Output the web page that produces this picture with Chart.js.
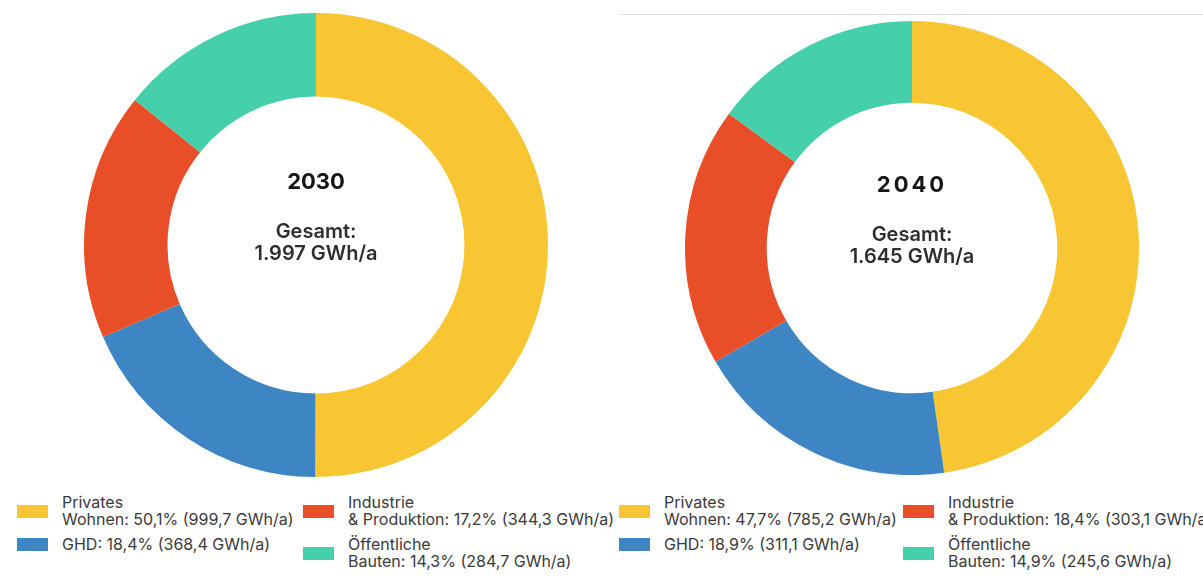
<!DOCTYPE html>
<html lang="de">
<head>
<meta charset="utf-8">
<title>Wärmebedarf 2030 / 2040</title>
<script src="https://cdn.jsdelivr.net/npm/chart.js@4.4.1/dist/chart.umd.min.js"></script>
<style>
    html, body {
        margin: 0;
        padding: 0;
        background: #ffffff;
        width: 1203px;
        height: 586px;
        overflow: hidden;
        font-family: 'Inter', 'Noto Sans', sans-serif;
    }
    .panel {
        position: absolute;
        top: 0;
        height: 586px;
        overflow: hidden;
        background: #ffffff;
    }
    #panelL { left: 0; width: 617px; }
    #panelR { left: 617px; width: 586px; }
    #panelR .frame {
        position: absolute;
        left: 1px;
        top: 14px;
        right: 0;
        border-top: 1px solid #e2e2e2;
    }
    .chart-wrap { position: absolute; }
    .legend-item {
        position: absolute;
        display: flex;
        align-items: center;
        white-space: nowrap;
    }
    .legend-swatch {
        width: 31px;
        height: 13px;
        flex: none;
        margin-right: 14px;
    }
    .legend-text {
        font-size: 16px;
        line-height: 17px;
        color: #3a3a3a;
    }
</style>
</head>
<body>
<div id="panelL" class="panel">
    <div class="chart-wrap" style="left:84px; top:13px; width:464px; height:464px;">
        <canvas id="chart2030"></canvas>
    </div>
    <div class="legend" id="legend2030"></div>
</div>
<div id="panelR" class="panel">
    <div class="frame"></div>
    <div class="chart-wrap" style="left:68px; top:21px; width:454px; height:454px;">
        <canvas id="chart2040"></canvas>
    </div>
    <div class="legend" id="legend2040"></div>
</div>

<script>
// Sectors (legend lines split where the label wraps)
const categories = ['Privates Wohnen', 'GHD', 'Industrie & Produktion', 'Öffentliche Bauten'];
const labelLines = [['Privates', 'Wohnen'], ['GHD'], ['Industrie', '& Produktion'], ['Öffentliche', 'Bauten']];
const colors = ['#f7c632', '#3e86c3', '#e84f28', '#46cfab'];

const years = ['2030', '2040'];

// Heat demand in GWh/a per sector
const values2030 = [999.7, 368.4, 344.3, 284.7];
const values2040 = [785.2, 311.1, 303.1, 245.6];

const unit = 'GWh/a';

// German number format: 1.997 / 999,7
function formatDe(num, decimals) {
    const parts = num.toFixed(decimals).split('.');
    parts[0] = parts[0].replace(/\B(?=(\d{3})+(?!\d))/g, '.');
    return parts.join(',');
}

function sum(arr) {
    return arr.reduce((a, b) => a + b, 0);
}

// Year and total written into the hole of the doughnut
const centerText = {
    id: 'centerText',
    afterDraw(chart, args, opts) {
        const ctx = chart.ctx;
        const area = chart.chartArea;
        const cx = (area.left + area.right) / 2;
        const cy = (area.top + area.bottom) / 2;
        ctx.save();
        ctx.textAlign = 'center';
        ctx.textBaseline = 'middle';
        ctx.fillStyle = '#151515';
        ctx.font = '700 22px Inter, sans-serif';
        ctx.letterSpacing = opts.yearSpacing || '0px';
        ctx.fillText(opts.year, cx, cy - 63);
        ctx.letterSpacing = '0px';
        ctx.fillStyle = '#2e2e2e';
        ctx.font = '600 20px Inter, sans-serif';
        ctx.fillText('Gesamt:', cx, cy - 13);
        ctx.fillText(formatDe(Math.round(opts.total), 0) + ' ' + unit, cx, cy + 9);
        ctx.restore();
    }
};

function makeDoughnut(canvasId, year, values, yearSpacing) {
    const ctx = document.getElementById(canvasId).getContext('2d');
    return new Chart(ctx, {
        type: 'doughnut',
        data: {
            labels: categories,
            datasets: [{
                data: values,
                backgroundColor: colors,
                borderWidth: 0
            }]
        },
        options: {
            responsive: true,
            maintainAspectRatio: false,
            animation: false,
            cutout: '64%',
            layout: { padding: 0 },
            plugins: {
                legend: { display: false },
                tooltip: { enabled: false },
                centerText: { year: year, total: sum(values), yearSpacing: yearSpacing }
            }
        },
        plugins: [centerText]
    });
}

function buildLegend(containerId, values, colX, rowY) {
    const box = document.getElementById(containerId);
    const total = sum(values);
    box.innerHTML = '';
    values.forEach((v, i) => {
        const col = Math.floor(i / 2);
        const row = i % 2;
        const item = document.createElement('div');
        item.className = 'legend-item';
        item.style.left = colX[col] + 'px';
        item.style.top = rowY[row] + 'px';

        const sw = document.createElement('div');
        sw.className = 'legend-swatch';
        sw.style.background = colors[i];

        const txt = document.createElement('div');
        txt.className = 'legend-text';
        const lines = labelLines[i].slice();
        const pct = formatDe(v / total * 100, 1);
        lines[lines.length - 1] += ': ' + pct + '% (' + formatDe(v, 1) + ' ' + unit + ')';
        lines.forEach(line => {
            const d = document.createElement('div');
            d.textContent = line;
            txt.appendChild(d);
        });

        item.appendChild(sw);
        item.appendChild(txt);
        box.appendChild(item);
    });
}

document.addEventListener('DOMContentLoaded', function() {
    makeDoughnut('chart2030', years[0], values2030, '0px');
    makeDoughnut('chart2040', years[1], values2040, '3px');
    buildLegend('legend2030', values2030, [17, 303], [494, 536]);
    buildLegend('legend2040', values2040, [2, 286], [494, 536]);
});
</script>
</body>
</html>
